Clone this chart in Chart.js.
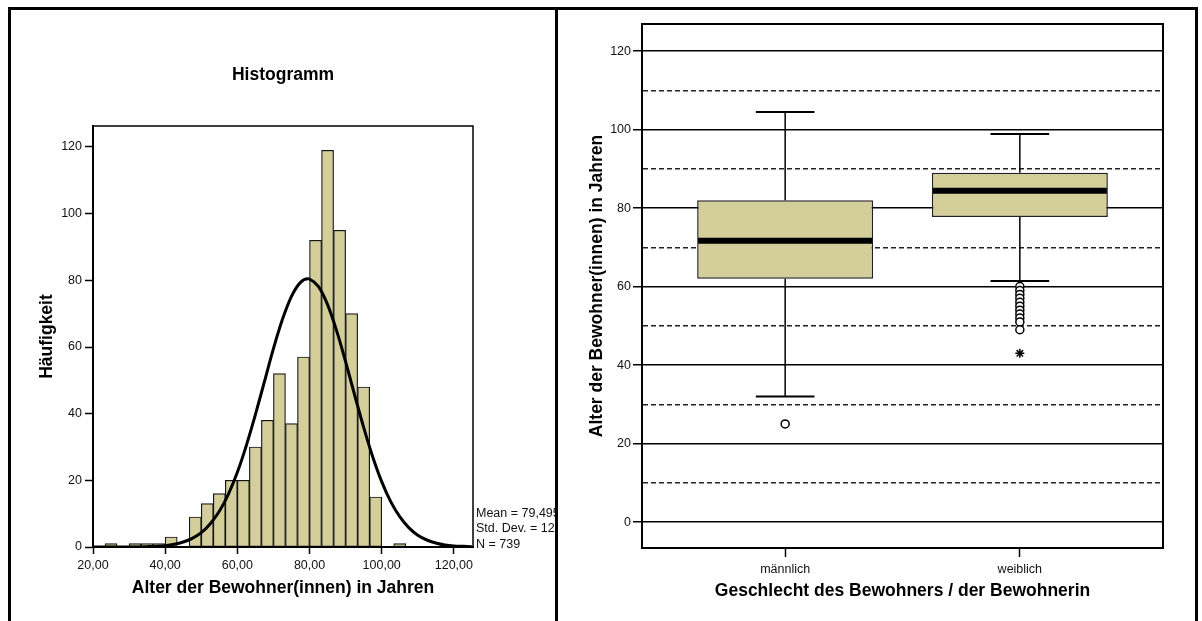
<!DOCTYPE html>
<html>
<head>
<meta charset="utf-8">
<script src="https://cdn.jsdelivr.net/npm/chart.js@4.4.1/dist/chart.umd.min.js"></script>
<style>
  html, body { margin: 0; padding: 0; background: #fff; overflow: hidden; }
  body { width: 1202px; height: 621px; position: relative; }
  .rule { position: absolute; background: #000; }
  #histCanvas { position: absolute; left: 11px; top: 10px; }
  #boxCanvas { position: absolute; left: 558px; top: 10px; }
</style>
</head>
<body>
<div class="rule" style="left:8px;top:7px;width:1190px;height:3px"></div>
<div class="rule" style="left:8px;top:7px;width:3px;height:614px"></div>
<div class="rule" style="left:555px;top:7px;width:3px;height:614px"></div>
<div class="rule" style="left:1195px;top:7px;width:3px;height:614px"></div>
<canvas id="histCanvas" width="544" height="611"></canvas>
<canvas id="boxCanvas" width="637" height="611"></canvas>
<script>
// Histogramm: Altersklassen (Breite 3,33 Jahre ab 20)
const binStart = 20
const binWidth = 10 / 3
const ageCounts = [0, 1, 0, 1, 1, 1, 3, 0, 9, 13, 16, 20, 20, 30, 38, 52, 37, 57, 92, 119, 95, 70, 48, 15, 0, 1]

// Normalverteilungskurve
const curveX = [20, 25, 30, 35, 40, 42.5, 45, 47.5, 50, 52.5, 55, 57.5, 60, 62.5, 65, 67.5, 70, 72.5, 75, 77.5, 79.5, 80, 82.5, 85, 87.5, 90, 92.5, 95, 97.5, 100, 102.5, 105, 107.5, 110, 112.5, 115, 117.5, 120, 122.5, 125]
const curveY = [0, 0, 0.02, 0.1, 0.4, 0.8, 1.5, 2.6, 4.3, 7.0, 10.7, 15.8, 22.4, 30.5, 39.7, 49.6, 59.5, 68.3, 75.2, 79.4, 80.5, 80.4, 78.1, 72.7, 64.9, 55.6, 45.6, 35.9, 27.1, 19.6, 13.6, 9.1, 5.8, 3.5, 2.1, 1.2, 0.6, 0.3, 0.2, 0.1]

const statLines = ["Mean = 79,495", "Std. Dev. = 12,2", "N = 739"]

// Boxplot nach Geschlecht
const groups = ["männlich", "weiblich"]
const q1 = [62, 77.7]
const medians = [71.7, 84.4]
const q3 = [82, 89]
const whiskerLow = [32, 61.4]
const whiskerHigh = [104.5, 98.9]
const outliers = [[25], [60, 59, 58, 57, 56, 55, 54, 53, 52, 51, 49]]
const extremes = [[], [43]]

const FONT = '"Liberation Sans", Arial, sans-serif'
const KHAKI = "#d4cf9a"
Chart.defaults.font.family = FONT
Chart.defaults.color = "#111"

const histDecor = {
  id: "histDecor",
  afterDraw(chart) {
    const { ctx, chartArea: a } = chart
    ctx.save()
    ctx.strokeStyle = "#000"
    ctx.lineWidth = 1.5
    ctx.strokeRect(a.left, a.top, a.right - a.left, a.bottom - a.top)
    ctx.fillStyle = "#000"
    ctx.font = "bold 17.5px " + FONT
    ctx.textAlign = "center"
    ctx.textBaseline = "middle"
    ctx.fillText("Histogramm", (a.left + a.right) / 2, 65)
    ctx.fillStyle = "#111"
    ctx.font = "12.5px " + FONT
    ctx.textAlign = "left"
    statLines.forEach((t, i) => ctx.fillText(t, a.right + 3, a.bottom - 33.5 + i * 15.5))
    ctx.restore()
  }
}

new Chart(document.getElementById("histCanvas"), {
  type: "bar",
  data: {
    datasets: [
      {
        type: "line",
        data: curveX.map((x, i) => ({ x, y: curveY[i] })),
        borderColor: "#000",
        borderWidth: 3,
        pointRadius: 0,
        cubicInterpolationMode: "monotone",
        order: 0
      },
      {
        type: "bar",
        data: ageCounts.map((c, i) => ({ x: binStart + (i + 0.5) * binWidth, y: c })),
        backgroundColor: KHAKI,
        borderColor: "#151515",
        borderWidth: 1.2,
        borderSkipped: false,
        barPercentage: 1,
        categoryPercentage: 1,
        order: 1
      }
    ]
  },
  options: {
    responsive: false,
    animation: false,
    layout: { padding: { top: 116, right: 82, bottom: 0, left: 0 } },
    plugins: { legend: { display: false }, tooltip: { enabled: false } },
    scales: {
      x: {
        type: "linear",
        min: 20,
        max: 125.3,
        offset: false,
        ticks: {
          stepSize: 20,
          includeBounds: false,
          maxRotation: 0,
          padding: 4,
          font: { size: 12.5 },
          callback: v => v.toFixed(2).replace(".", ",")
        },
        grid: { offset: false, drawOnChartArea: false, tickLength: 7, tickColor: "#000", tickWidth: 1.5 },
        border: { color: "#000", width: 2 },
        title: {
          display: true,
          text: "Alter der Bewohner(innen) in Jahren",
          color: "#000",
          font: { size: 17.5, weight: "bold" },
          padding: { top: 0, bottom: 22.5 }
        },
        afterFit: s => { s.height = 74 }
      },
      y: {
        min: 0,
        max: 126.3,
        ticks: { stepSize: 20, includeBounds: false, padding: 3, font: { size: 12.5 } },
        grid: { drawOnChartArea: false, tickLength: 8, tickColor: "#000", tickWidth: 1.5 },
        border: { color: "#000", width: 2 },
        title: {
          display: true,
          text: "Häufigkeit",
          color: "#000",
          font: { size: 17.5, weight: "bold" },
          padding: { top: 26, bottom: 0 }
        },
        afterFit: s => { s.width = 82 }
      }
    }
  },
  plugins: [histDecor]
})

// Whisker, Median und Rahmen für den Boxplot
const capHalf = 0.125
const boxDecor = {
  id: "boxDecor",
  afterDatasetDraw(chart, args) {
    if (args.index !== 0) return
    const { ctx } = chart
    const xs = chart.scales.x
    const ys = chart.scales.y
    const meta = chart.getDatasetMeta(0)
    const line = (x1, y1, x2, y2) => {
      ctx.beginPath()
      ctx.moveTo(x1, y1)
      ctx.lineTo(x2, y2)
      ctx.stroke()
    }
    ctx.save()
    ctx.strokeStyle = "#000"
    groups.forEach((g, i) => {
      const bar = meta.data[i]
      const cx = bar.x
      const half = bar.width / 2
      const capL = xs.getPixelForValue(i + 1 - capHalf)
      const capR = xs.getPixelForValue(i + 1 + capHalf)
      ctx.lineWidth = 1.5
      line(cx, ys.getPixelForValue(q3[i]), cx, ys.getPixelForValue(whiskerHigh[i]))
      line(cx, ys.getPixelForValue(q1[i]), cx, ys.getPixelForValue(whiskerLow[i]))
      ctx.lineWidth = 2
      line(capL, ys.getPixelForValue(whiskerHigh[i]), capR, ys.getPixelForValue(whiskerHigh[i]))
      line(capL, ys.getPixelForValue(whiskerLow[i]), capR, ys.getPixelForValue(whiskerLow[i]))
      ctx.lineWidth = 6
      line(cx - half + 1, ys.getPixelForValue(medians[i]), cx + half - 1, ys.getPixelForValue(medians[i]))
    })
    ctx.restore()
  },
  afterDraw(chart) {
    const { ctx, chartArea: a } = chart
    ctx.save()
    ctx.strokeStyle = "#000"
    ctx.lineWidth = 2
    ctx.strokeRect(a.left, a.top, a.right - a.left, a.bottom - a.top)
    ctx.restore()
  }
}

const isMajor = ctx => ctx.tick && ctx.tick.value % 20 === 0

new Chart(document.getElementById("boxCanvas"), {
  type: "bar",
  data: {
    datasets: [
      {
        type: "bar",
        data: groups.map((g, i) => ({ x: i + 1, y: [q1[i], q3[i]] })),
        backgroundColor: KHAKI,
        borderColor: "#222",
        borderWidth: 1.5,
        borderSkipped: false,
        barPercentage: 0.75,
        categoryPercentage: 1,
        order: 2
      },
      {
        type: "scatter",
        data: outliers.flatMap((vals, i) => vals.map(v => ({ x: i + 1, y: v }))),
        pointStyle: "circle",
        pointRadius: 4,
        pointBackgroundColor: "#fff",
        pointBorderColor: "#000",
        pointBorderWidth: 1.5,
        order: 0
      },
      {
        type: "scatter",
        data: extremes.flatMap((vals, i) => vals.map(v => ({ x: i + 1, y: v }))),
        pointStyle: "star",
        pointRadius: 4.5,
        pointBorderColor: "#000",
        pointBorderWidth: 1.5,
        order: 0
      }
    ]
  },
  options: {
    responsive: false,
    animation: false,
    layout: { padding: { top: 14, right: 32, bottom: 0, left: 0 } },
    plugins: { legend: { display: false }, tooltip: { enabled: false } },
    scales: {
      x: {
        type: "linear",
        min: 0.39,
        max: 2.61,
        offset: false,
        afterBuildTicks: s => { s.ticks = groups.map((g, i) => ({ value: i + 1 })) },
        ticks: {
          maxRotation: 0,
          autoSkip: false,
          padding: 5,
          font: { size: 12.5 },
          callback: v => groups[v - 1]
        },
        grid: { offset: false, drawOnChartArea: false, tickLength: 9, tickColor: "#000", tickWidth: 1.5 },
        border: { color: "#000", width: 2 },
        title: {
          display: true,
          text: "Geschlecht des Bewohners / der Bewohnerin",
          color: "#000",
          font: { size: 17.5, weight: "bold" },
          padding: { top: 0, bottom: 19.5 }
        },
        afterFit: s => { s.height = 73 }
      },
      y: {
        min: -6.6,
        max: 126.9,
        ticks: {
          stepSize: 10,
          includeBounds: false,
          padding: 2,
          font: { size: 12.5 },
          callback: v => (v % 20 === 0 ? v : "")
        },
        grid: {
          color: ctx => (isMajor(ctx) ? "#000" : "#222"),
          lineWidth: 1.5,
          tickLength: 9,
          tickWidth: 1.5,
          tickColor: ctx => (isMajor(ctx) ? "#000" : "rgba(0,0,0,0)")
        },
        border: {
          color: "#000",
          width: 2,
          dash: ctx => (ctx.tick && !isMajor(ctx) ? [5, 3] : [])
        },
        title: {
          display: true,
          text: "Alter der Bewohner(innen) in Jahren",
          color: "#000",
          font: { size: 17.5, weight: "bold" },
          padding: { top: 28.5, bottom: 0 }
        },
        afterFit: s => { s.width = 84 }
      }
    }
  },
  plugins: [boxDecor]
})
</script>
</body>
</html>
